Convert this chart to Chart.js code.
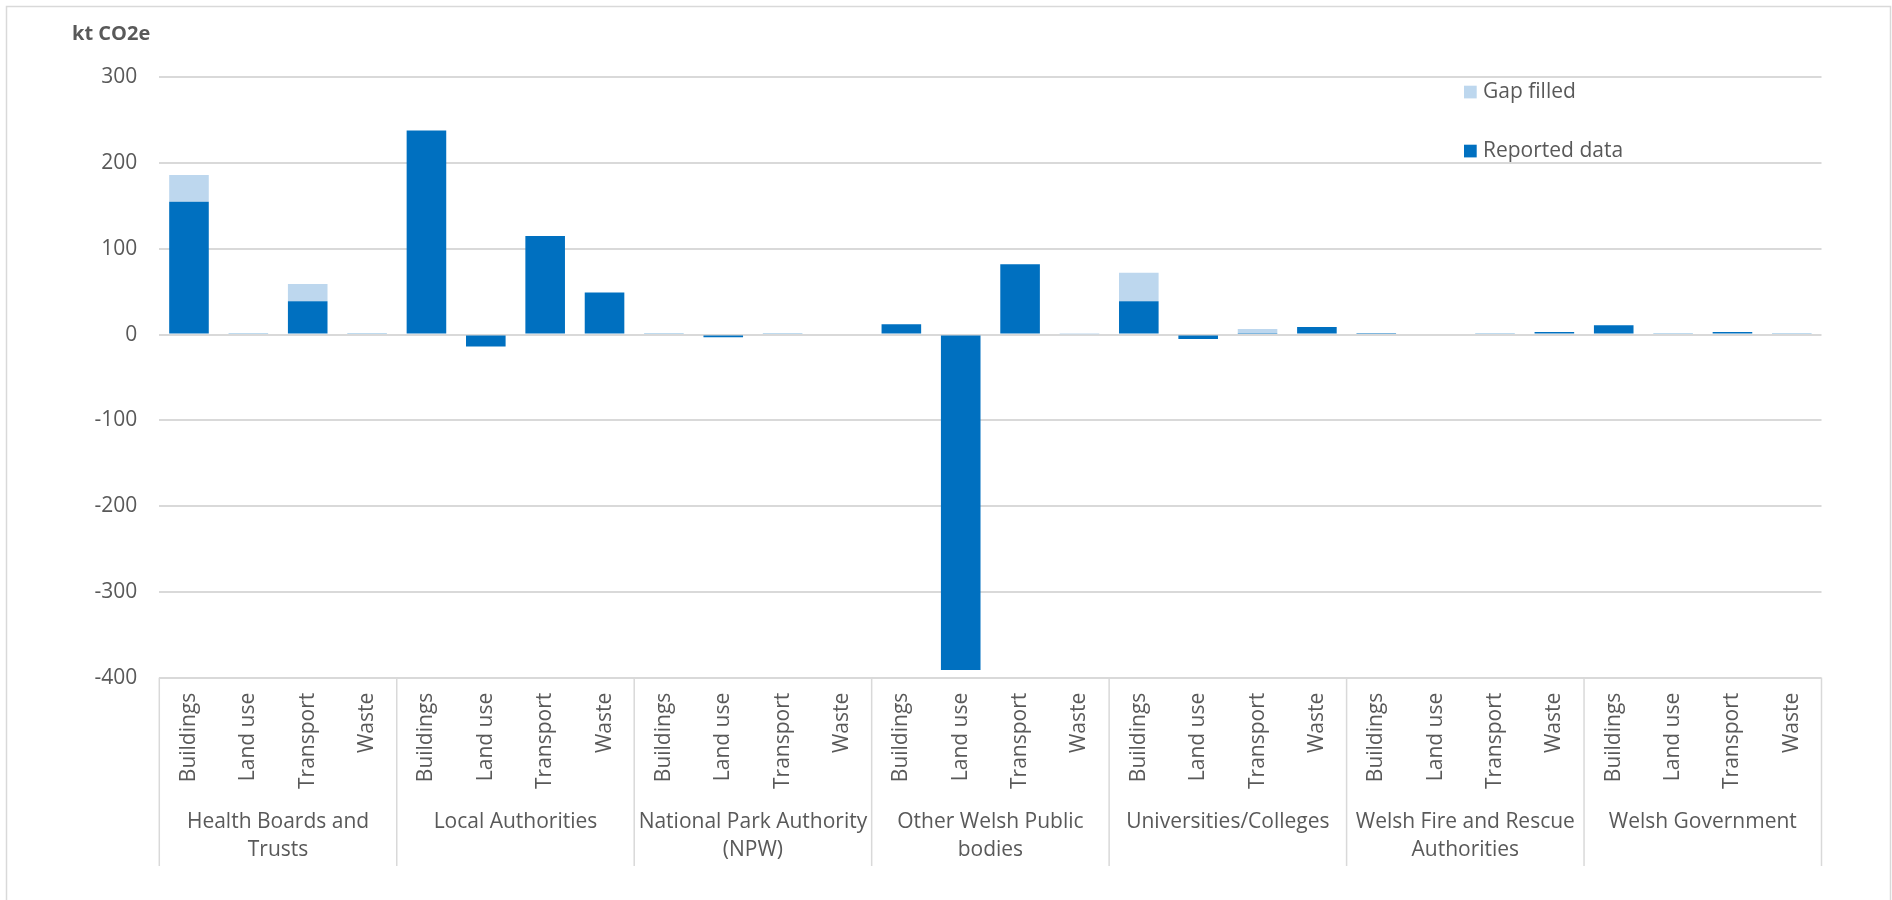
<!DOCTYPE html>
<html><head><meta charset="utf-8">
<script src="https://cdn.jsdelivr.net/npm/chart.js@4.4.0/dist/chart.umd.min.js"></script>
<style>html,body{margin:0;padding:0;background:#fff;}#wrap{position:relative;width:1892px;height:900px;}</style>
</head><body><div id="wrap"><canvas id="c" width="1892" height="900"></canvas></div>
<script>
const groups = [
  ['Health Boards and', 'Trusts'],
  ['Local Authorities'],
  ['National Park Authority', '(NPW)'],
  ['Other Welsh Public', 'bodies'],
  ['Universities/Colleges'],
  ['Welsh Fire and Rescue', 'Authorities'],
  ['Welsh Government']
];
const subCategories = ['Buildings', 'Land use', 'Transport', 'Waste'];
const reportedData = [155, 1.5, 39, 1.5,  238, -14, 115, 49,  1.5, -3, 1.5, 0,  12, -391, 82, 0,  39, -5, 2, 9,  2, 0, 1.5, 3,  11, 1.5, 3, 1.5];
const gapFilledData = [31, 0, 20, 0,  0, 0, 0, 0,  0, 0, 0, 0,  0, 0, 0, 0.5,  33, 0, 4.5, 0,  0, 0, 0, 0,  0, 0, 0, 0];
const yMin = -400, yMax = 300, yStep = 100;
const yAxisTitle = 'kt CO2e';
const seriesNames = ['Reported data', 'Gap filled'];
const seriesColors = ['#0070C0', '#BDD7EE'];

const labels = [];
groups.forEach(() => subCategories.forEach(s => labels.push(s)));

const TEXT = '#595959';
const GRID = '#d9d9d9';
const FONT = "'Open Sans', 'DejaVu Sans', sans-serif";

const customDraw = {
  id: 'customDraw',
  afterDraw(chart) {
    const ctx = chart.ctx;
    const xs = chart.scales.x;
    const ca = chart.chartArea;
    ctx.save();
    // outer frame
    ctx.strokeStyle = GRID; ctx.lineWidth = 1.5;
    ctx.strokeRect(6.5, 6.5, 1884, 900);
    // axis title
    ctx.fillStyle = TEXT;
    ctx.font = "bold 20px " + FONT;
    ctx.textAlign = 'left'; ctx.textBaseline = 'middle';
    ctx.fillText(yAxisTitle, 72, 34);
    // category separators
    const catW = xs.getPixelForValue(1) - xs.getPixelForValue(0);
    const n = subCategories.length;
    ctx.strokeStyle = GRID; ctx.lineWidth = 1.5;
    for (let g = 0; g <= groups.length; g++) {
      const x = g < groups.length ? xs.getPixelForValue(g * n) - catW / 2 : ca.right;
      ctx.beginPath(); ctx.moveTo(x, ca.bottom); ctx.lineTo(x, 866); ctx.stroke();
    }
    // sub labels
    ctx.fillStyle = TEXT;
    ctx.font = "21px " + FONT;
    for (let i = 0; i < labels.length; i++) {
      const x = xs.getPixelForValue(i);
      ctx.save();
      ctx.translate(x, ca.bottom + 15);
      ctx.rotate(-Math.PI / 2);
      ctx.textAlign = 'right'; ctx.textBaseline = 'middle';
      ctx.fillText(labels[i], 0, 0);
      ctx.restore();
    }
    // group labels
    ctx.font = "21px " + FONT;
    ctx.textAlign = 'center'; ctx.textBaseline = 'middle';
    groups.forEach((lines, g) => {
      const x = (xs.getPixelForValue(g * n) + xs.getPixelForValue(g * n + n - 1)) / 2;
      lines.forEach((t, k) => ctx.fillText(t, x, 822 + k * 28));
    });
    // legend (Gap filled above Reported data)
    const items = [[1, 92], [0, 151]];
    items.forEach(([di, y]) => {
      const ds = chart.data.datasets[di];
      ctx.fillStyle = ds.backgroundColor;
      ctx.fillRect(1464, y - 6.3, 12.7, 12.7);
      ctx.fillStyle = TEXT;
      ctx.textAlign = 'left'; ctx.textBaseline = 'middle';
      ctx.font = "21px " + FONT;
      ctx.fillText(ds.label, 1483, y);
    });
    ctx.restore();
  }
};

new Chart(document.getElementById('c'), {
  type: 'bar',
  data: {
    labels: labels,
    datasets: [
      { label: seriesNames[0], data: reportedData, backgroundColor: seriesColors[0], barPercentage: 0.667, categoryPercentage: 1, stack: 's' },
      { label: seriesNames[1], data: gapFilledData, backgroundColor: seriesColors[1], barPercentage: 0.667, categoryPercentage: 1, stack: 's' }
    ]
  },
  options: {
    responsive: false,
    animation: false,
    devicePixelRatio: 1,
    layout: { padding: { left: 0, right: 70.5, top: 77.3, bottom: 0 } },
    plugins: { legend: { display: false }, tooltip: { enabled: false } },
    scales: {
      x: {
        stacked: true,
        grid: { display: false },
        border: { display: false },
        ticks: { display: false },
        afterFit(s) { s.height = 222.3; }
      },
      y: {
        stacked: true,
        min: yMin, max: yMax,
        ticks: { stepSize: yStep, color: TEXT, font: { family: FONT, size: 21 }, padding: 22 },
        grid: { color: GRID, lineWidth: 2, drawTicks: false },
        border: { display: false },
        afterFit(s) { s.width = 159.3; }
      }
    }
  },
  plugins: [customDraw]
});
</script>
</body></html>
